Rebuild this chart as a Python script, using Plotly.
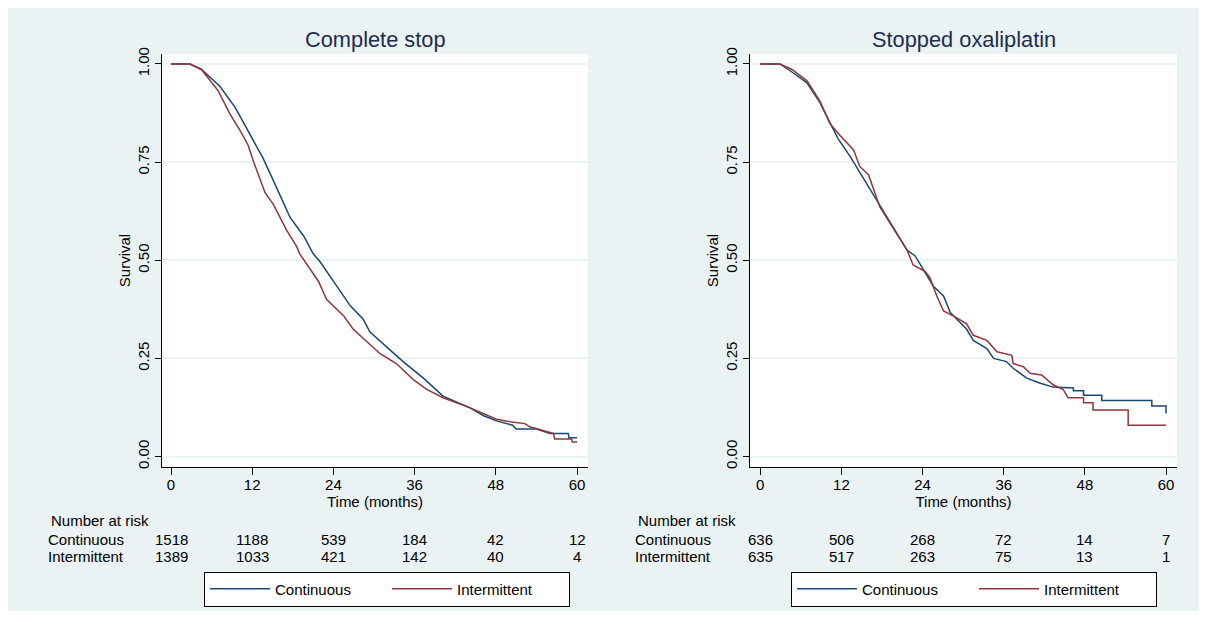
import plotly.graph_objects as go

# ---------------- data ----------------
panel_titles = ["Complete stop", "Stopped oxaliplatin"]
group_names = ["Continuous", "Intermittent"]
x_tick_vals = [0, 12, 24, 36, 48, 60]
y_tick_vals = [0.0, 0.25, 0.5, 0.75, 1.0]
risk_times = [0, 12, 24, 36, 48, 60]

# Complete stop - Continuous
cs_cont_t = [0, 2.8, 4.5, 7.2, 9.5, 11.7, 13.6, 15.6, 17.6, 19.6, 21.0, 22.0, 23.7, 24.5,
             26.5, 28.4, 29.4, 31.4, 34.3, 37.3, 40.2, 44.2, 46.2, 48.1, 50.5, 51.0, 54.0,
             56.0, 58.7, 58.8, 60]
cs_cont_s = [1.0, 1.0, 0.986, 0.944, 0.889, 0.818, 0.760, 0.685, 0.609, 0.562, 0.517, 0.497,
             0.452, 0.434, 0.384, 0.350, 0.317, 0.287, 0.242, 0.200, 0.154, 0.124, 0.104,
             0.091, 0.080, 0.070, 0.070, 0.059, 0.059, 0.048, 0.048]

# Complete stop - Intermittent
cs_int_t = [0, 2.8, 4.5, 5.5, 7.0, 8.7, 10.2, 11.4, 12.2, 13.9, 15.1, 17.1, 18.6, 19.0, 20.0,
            21.8, 23.0, 25.5, 26.9, 28.7, 30.9, 33.3, 35.8, 37.8, 40.2, 44.2, 48.1, 50.1,
            52.3, 53.0, 55.0, 56.5, 56.7, 59.2, 59.3, 60]
cs_int_s = [1.0, 1.0, 0.986, 0.965, 0.931, 0.873, 0.831, 0.793, 0.751, 0.672, 0.643, 0.576,
            0.534, 0.517, 0.492, 0.446, 0.400, 0.359, 0.325, 0.296, 0.262, 0.237, 0.196,
            0.171, 0.150, 0.124, 0.095, 0.089, 0.084, 0.076, 0.066, 0.059, 0.045, 0.045,
            0.037, 0.037]

# Stopped oxaliplatin - Continuous
so_cont_t = [0, 2.9, 4.9, 6.9, 8.8, 9.8, 11.5, 13.3, 15.2, 17.2, 18.7, 20.2, 21.7, 22.9,
             24.8, 25.6, 27.1, 28.1, 30.5, 31.5, 33.5, 34.5, 36.4, 37.4, 39.4, 41.4, 43.3,
             46.3, 46.3, 47.8, 47.8, 50.5, 50.5, 57.9, 57.9, 60, 60]
so_cont_s = [1.0, 1.0, 0.977, 0.952, 0.902, 0.869, 0.810, 0.764, 0.710, 0.651, 0.609, 0.568,
             0.526, 0.511, 0.459, 0.434, 0.409, 0.367, 0.325, 0.296, 0.275, 0.250, 0.242,
             0.225, 0.200, 0.187, 0.177, 0.175, 0.168, 0.168, 0.156, 0.156, 0.143, 0.143,
             0.129, 0.129, 0.110]

# Stopped oxaliplatin - Intermittent
so_int_t = [0, 2.9, 4.7, 6.9, 8.8, 10.3, 11.8, 13.8, 14.7, 16.0, 17.7, 20.2, 21.7, 22.6,
            24.4, 25.1, 26.1, 27.1, 29.0, 30.5, 31.5, 33.5, 35.0, 37.2, 37.4, 38.9, 39.9,
            41.6, 43.3, 44.8, 45.5, 47.8, 47.8, 49.2, 49.2, 54.4, 54.4, 60]
so_int_s = [1.0, 1.0, 0.986, 0.957, 0.906, 0.848, 0.818, 0.781, 0.739, 0.718, 0.635, 0.568,
            0.526, 0.488, 0.471, 0.455, 0.409, 0.371, 0.354, 0.338, 0.309, 0.296, 0.267,
            0.258, 0.237, 0.229, 0.212, 0.208, 0.183, 0.171, 0.150, 0.150, 0.137, 0.137,
            0.119, 0.119, 0.080, 0.080]

# Number at risk
risk_cs_cont = [1518, 1188, 539, 184, 42, 12]
risk_cs_int = [1389, 1033, 421, 142, 40, 4]
risk_so_cont = [636, 506, 268, 72, 14, 7]
risk_so_int = [635, 517, 263, 75, 13, 1]

# ---------------- styling ----------------
# The page body keeps its default 8px margin, so the figure is sized to fit
# exactly inside the 1207x619 window; positions below are window pixels.
VIEW_W, VIEW_H = 1207, 619
OFF = 8
W, H = VIEW_W - 2 * OFF, VIEW_H - 2 * OFF
BG = "#EAF2F3"
BLUE = "#1A476F"
RED = "#90353B"
TITLE_COLOR = "#1E2D4E"
FONT = "Liberation Sans, Arial, Helvetica, sans-serif"


def fx(px):
    return (px - OFF) / W


def fy(py):
    return 1 - (py - OFF) / H


fig = go.Figure()

panels = [
    dict(xa="x", ya="y", leg="legend",
         series=[(cs_cont_t, cs_cont_s), (cs_int_t, cs_int_s)],
         risk=[risk_cs_cont, risk_cs_int]),
    dict(xa="x2", ya="y2", leg="legend2",
         series=[(so_cont_t, so_cont_s), (so_int_t, so_int_s)],
         risk=[risk_so_cont, risk_so_int]),
]
colors = [BLUE, RED]

for p in panels:
    for (t, s), name, col in zip(p["series"], group_names, colors):
        fig.add_trace(go.Scatter(
            x=t, y=s, mode="lines", name=name,
            line=dict(color=col, width=1.5),
            xaxis=p["xa"], yaxis=p["ya"], legend=p["leg"], showlegend=True,
        ))

y_dom = [fy(466.7), fy(47.7)]
axis_common_x = dict(
    tickvals=x_tick_vals, ticks="outside", ticklen=7, tickcolor="black",
    showline=True, linecolor="black", linewidth=1, showgrid=False, zeroline=False,
    ticklabelstandoff=-3,
    tickfont=dict(size=15, color="black", family=FONT),
    title=dict(text="Time (months)", font=dict(size=15, color="black", family=FONT), standoff=0),
)
axis_common_y = dict(
    tickvals=y_tick_vals, tickformat=".2f", tickangle=-90, ticks="outside", ticklen=6,
    tickcolor="black", showline=True, linecolor="black", linewidth=1,
    showgrid=True, gridcolor=BG, gridwidth=1.5, zeroline=False,
    range=[-0.0261, 1.0251], domain=y_dom,
    tickfont=dict(size=15, color="black", family=FONT),
    title=dict(text="Survival", font=dict(size=15, color="black", family=FONT), standoff=0),
)

legend_common = dict(
    orientation="h", xanchor="left", yanchor="top", bgcolor="white",
    bordercolor="black", borderwidth=1, font=dict(size=15, color="black", family=FONT),
    itemwidth=60, entrywidth=107, tracegroupgap=0,
)

fig.update_layout(
    width=W, height=H, autosize=False,
    margin=dict(l=0, r=0, t=0, b=0, pad=0),
    paper_bgcolor=BG, plot_bgcolor="white",
    font=dict(family=FONT, color="black"),
    xaxis=dict(domain=[fx(162), fx(588)], range=[-1.33, 61.62], anchor="y", **axis_common_x),
    yaxis=dict(anchor="x", **axis_common_y),
    xaxis2=dict(domain=[fx(750), fx(1177)], range=[-1.52, 61.62], anchor="y2", **axis_common_x),
    yaxis2=dict(anchor="x2", **axis_common_y),
    legend=dict(x=fx(204), y=fy(573), **legend_common),
    legend2=dict(x=fx(791), y=fy(573), **legend_common),
    hovermode=False,
)

annotations = []
for p, title in zip(panels, panel_titles):
    annotations.append(dict(
        text=title, xref=f"{p['xa']} domain", yref="paper", x=0.5, y=fy(33),
        xanchor="center", yanchor="middle", showarrow=False,
        font=dict(size=21.8, color=TITLE_COLOR, family=FONT)))

label_left = {"x": 46, "x2": 633}
for p in panels:
    lx = label_left[p["xa"]]
    annotations.append(dict(text="Number at risk", xref="paper", yref="paper",
                            x=fx(lx + 3), y=fy(521), xanchor="left", yanchor="middle",
                            showarrow=False, font=dict(size=15, color="black", family=FONT)))
    for row_y, name, counts in zip([540, 558], group_names, p["risk"]):
        annotations.append(dict(text=name, xref="paper", yref="paper",
                                x=fx(lx), y=fy(row_y), xanchor="left", yanchor="middle",
                                showarrow=False, font=dict(size=15, color="black", family=FONT)))
        for t, n in zip(risk_times, counts):
            annotations.append(dict(text=str(n), xref=p["xa"], yref="paper",
                                    x=t, y=fy(row_y), xanchor="center", yanchor="middle",
                                    showarrow=False,
                                    font=dict(size=15, color="black", family=FONT)))

fig.update_layout(annotations=annotations)

fig.write_html("out.html", config={"displayModeBar": False})
